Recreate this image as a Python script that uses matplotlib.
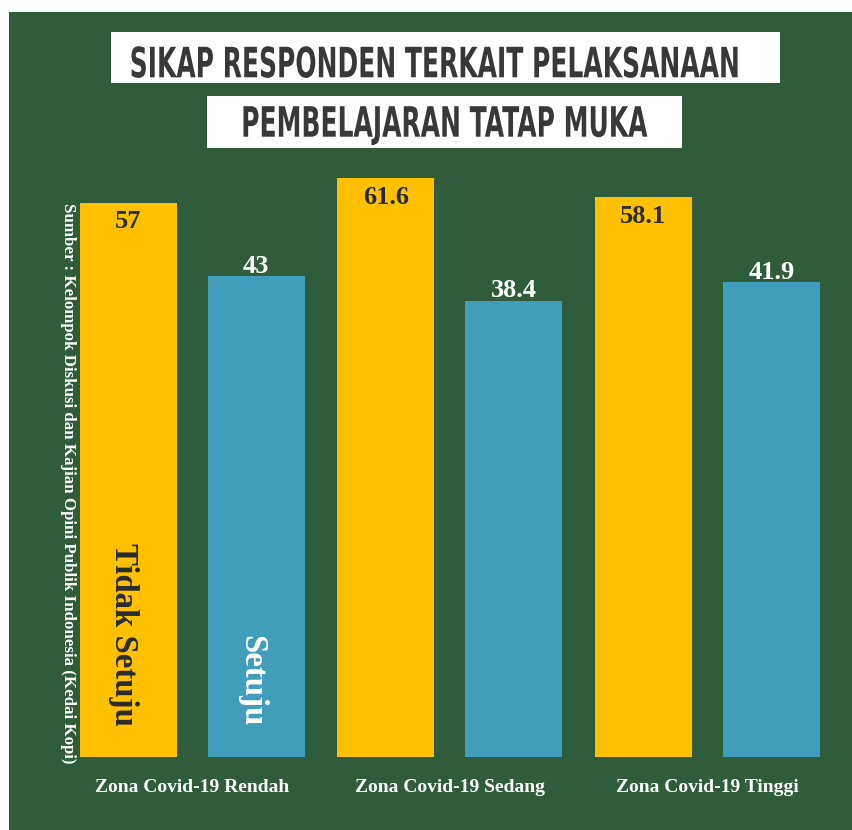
import numpy as np
import matplotlib
matplotlib.use("Agg")
import matplotlib.pyplot as plt
from matplotlib import font_manager as fm
from matplotlib.patches import Rectangle
from matplotlib.patheffects import AbstractPathEffect
from matplotlib.transforms import Affine2D

# ---------------- data ----------------
zones = ["Zona Covid-19 Rendah", "Zona Covid-19 Sedang", "Zona Covid-19 Tinggi"]
tidak_setuju = [57, 61.6, 58.1]
setuju = [43, 38.4, 41.9]
value_labels_ts = ["57", "61.6", "58.1"]
value_labels_s = ["43", "38.4", "41.9"]
series_names = ["Tidak Setuju", "Setuju"]
title_lines = ["SIKAP RESPONDEN TERKAIT PELAKSANAAN", "PEMBELAJARAN TATAP MUKA"]
source_text = "Sumber : Kelompok Diskusi dan Kajian Opini Publik Indonesia (Kedai Kopi)"

# ---------------- styles ----------------
GREEN = "#2F5C3A"
YELLOW = "#FFC000"
BLUE = "#409EBA"
DARK = "#2B2B2B"
TITLE_C = "#383838"

names = {f.name for f in fm.fontManager.ttflist}
TITLE_FONT = "Liberation Sans Narrow" if "Liberation Sans Narrow" in names else "DejaVu Sans"
SERIF = "Liberation Serif" if "Liberation Serif" in names else "DejaVu Serif"


class VStretch(AbstractPathEffect):
    """Stretch glyphs vertically about the baseline (text stays real text)."""
    def __init__(self, sy):
        super().__init__()
        self.sy = sy

    def draw_path(self, renderer, gc, tpath, affine, rgbFace=None):
        renderer.draw_path(gc, tpath, Affine2D().scale(1, self.sy) + affine, rgbFace)


W, H = 853, 830
fig = plt.figure(figsize=(W / 100, H / 100), dpi=100)
fig.patch.set_facecolor("white")

def fx(px):
    return px / W

def fy(py):
    return 1 - py / H

# green background panel
fig.patches.append(Rectangle((fx(9), 0), 1 - fx(9), fy(12), transform=fig.transFigure,
                             facecolor=GREEN, edgecolor="none", zorder=-2))
# title boxes
fig.patches.append(Rectangle((fx(111), fy(83)), fx(780 - 111), (83 - 32) / H,
                             transform=fig.transFigure, facecolor="white", edgecolor="none", zorder=-1))
fig.patches.append(Rectangle((fx(207), fy(148)), fx(682 - 207), (148 - 96) / H,
                             transform=fig.transFigure, facecolor="white", edgecolor="none", zorder=-1))

# ---------------- axes ----------------
ax_left, ax_right, ax_bottom, ax_top = 60, 840, 757, 160
ax = fig.add_axes([fx(ax_left), fy(ax_bottom), fx(ax_right - ax_left), (ax_bottom - ax_top) / H])
ax.set_zorder(2)
ax.set_facecolor("none")
for s in ax.spines.values():
    s.set_visible(False)

BASE = -48.2
x = np.arange(len(zones))
off = 0.2485
bw = 0.3766
ts = np.array(tidak_setuju)
st = np.array(setuju)
ax.bar(x - off, ts - BASE, bottom=BASE, width=bw, color=YELLOW, zorder=2)
ax.bar(x + off, st - BASE, bottom=BASE, width=bw, color=BLUE, zorder=2)
ax.set_ylim(BASE, 65.1)
ax.set_xlim(-0.5133, 2.5153)
ax.set_yticks([])
ax.set_xticks(x)
ax.set_xticklabels(zones, fontfamily=SERIF, fontweight="bold", fontsize=14, color="white")
ax.tick_params(axis="x", length=0, pad=16)

for xi, v, lab in zip(x - off, ts, value_labels_ts):
    ax.annotate(lab, xy=(xi, v), xytext=(0, -18.5), textcoords="offset points",
                ha="center", va="baseline", fontsize=19, fontweight="bold",
                fontfamily=SERIF, color=DARK, zorder=3)
for xi, v, lab in zip(x + off, st, value_labels_s):
    ax.annotate(lab, xy=(xi, v), xytext=(0, 2.4), textcoords="offset points",
                ha="center", va="baseline", fontsize=19, fontweight="bold",
                fontfamily=SERIF, color="white", zorder=3)

# series names written inside the first pair of bars
t_ts = ax.annotate(series_names[0], xy=(x[0] - off, BASE), xytext=(-3.6, 22.3),
                   textcoords="offset points", rotation=270, ha="center", va="bottom",
                   fontsize=23.5, fontweight="bold", fontfamily=SERIF, color=DARK, zorder=3)
t_s = ax.annotate(series_names[1], xy=(x[0] + off, BASE), xytext=(-3.4, 22.3),
                  textcoords="offset points", rotation=270, ha="center", va="bottom",
                  fontsize=23.5, fontweight="bold", fontfamily=SERIF, color="white", zorder=3)

# source text
t_src = fig.text(fx(67.5), fy(483.5), source_text, rotation=270, ha="center", va="center",
                 fontsize=11, fontweight="bold", fontfamily=SERIF, color="white", zorder=5)

# titles
t1 = fig.text(fx(434.5), fy(77.3), title_lines[0], ha="center", va="baseline",
              fontsize=30, fontweight="bold", fontfamily=TITLE_FONT, color=TITLE_C, zorder=5)
t2 = fig.text(fx(444), fy(136.7), title_lines[1], ha="center", va="baseline",
              fontsize=30, fontweight="bold", fontfamily=TITLE_FONT, color=TITLE_C, zorder=5)

# ---------------- fit text sizes to the reference extents ----------------
fig.canvas.draw()
r = fig.canvas.get_renderer()

def fit(t, target):
    bb = t.get_window_extent(r)
    length = max(bb.width, bb.height)
    t.set_fontsize(t.get_fontsize() * target / length)

fit(t1, 611)
t2.set_fontsize(t1.get_fontsize())
fit(t_src, 557)
fit(t_ts, 183)
t_s.set_fontsize(t_ts.get_fontsize())

em_px = t1.get_fontsize() * 100 / 72
cap_ratio = 0.716 if TITLE_FONT != "DejaVu Sans" else 0.729
sy = 30.5 / (cap_ratio * em_px)
t1.set_path_effects([VStretch(sy)])
t2.set_path_effects([VStretch(sy)])

fig.savefig("out.png", dpi=100, facecolor=fig.get_facecolor())
